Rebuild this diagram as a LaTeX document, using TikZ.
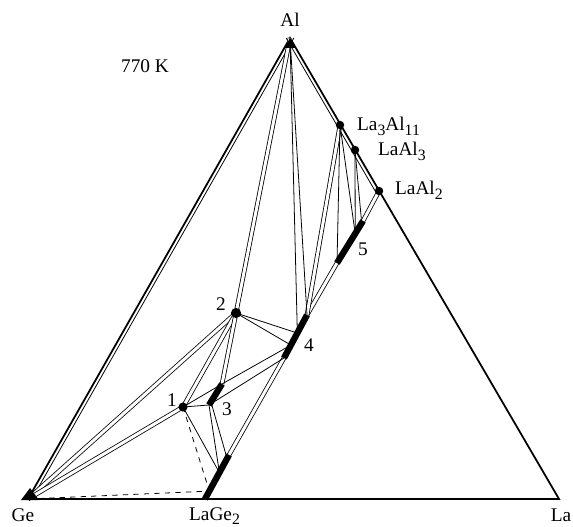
\documentclass[tikz,border=0pt]{standalone}
\usepackage{fontspec}
\setmainfont{Liberation Serif}
\usetikzlibrary{calc}
\newcommand{\phsub}[1]{\raisebox{-0.55ex}{\fontsize{9}{10}\selectfont #1}}

\begin{document}
\begin{tikzpicture}[
        x=0.02cm, y=-0.02cm,
        side/.style={line width=1pt},
        tie/.style={line width=0.45pt},
        band/.style={line width=0.45pt, double=white, double distance=1.7pt},
        phasebar/.style={line width=3.6pt},
        lbl/.style={font=\fontsize{11}{13}\selectfont, inner sep=1pt}
    ]
        \useasboundingbox (0,0) rectangle (573,526);

        % corners and phases
        \coordinate (al) at (290,38);
        \coordinate (ge) at (28,499);
        \coordinate (la) at (559,499);
        \coordinate (g0) at (205,499);
        \coordinate (g1) at (229,455);
        \coordinate (la3al11) at (340,125);
        \coordinate (laal3) at (355,150);
        \coordinate (laal2) at (379,191);
        \coordinate (t5a) at (337,263);
        \coordinate (t5b) at (363,221);
        \coordinate (t4a) at (284,358);
        \coordinate (t4b) at (307,315);
        \coordinate (t3a) at (209,405);
        \coordinate (t3b) at (222,384);
        \coordinate (t2) at (236,313);
        \coordinate (t1) at (183,407);

        % points on the bars
        \coordinate (t4m) at ($(t4a)!0.58!(t4b)$);
        \coordinate (t4l) at ($(t4a)!0.3!(t4b)$);
        \coordinate (t5m) at ($(t5a)!0.7!(t5b)$);
        \coordinate (t5u) at ($(t5a)!0.95!(t5b)$);
        \coordinate (t3u) at ($(t3a)!0.15!(t3b)$);
        \coordinate (gd) at ($(g0)!0.18!(g1)$);
        \coordinate (gm) at ($(g0)!0.6!(g1)$);
        \coordinate (gu) at ($(g0)!0.92!(g1)$);

        % triangle
        \draw[side] (ge) -- (al) -- (la) -- cycle;
        \draw[tie] ([xshift=2.2pt]al) -- ([xshift=2.2pt]ge);
        \draw[tie] ([xshift=-2.2pt]al) -- ([xshift=-2.2pt]laal2);

        % narrow two-phase fields
        \draw[band] (al) -- (t2);
        \draw[band] (ge) -- (t2);
        \draw[band] (ge) -- (t1);
        \draw[band] (t2) -- (t1);
        \draw[band] (t2) -- (t3b);
        \draw[band] (t4a) -- (g1);
        \draw[band] (t4b) -- (t5a);
        \draw[band] (t5b) -- (laal2);
        \draw[band] (la3al11) -- (t4b);

        % tie lines
        \draw[tie] (al) -- (t4m);
        \draw[tie] (al) -- (t4b);
        \draw[tie] (t2) -- (t4m);
        \draw[tie] (t2) -- (t4l);
        \draw[tie] (la3al11) -- (t5a);
        \draw[tie] (la3al11) -- (t5m);
        \draw[tie] (laal3) -- (t5m);
        \draw[tie] (laal3) -- (t5u);
        \draw[tie] (t1) -- (t3b);
        \draw[tie] (t1) -- (t3a);
        \draw[tie] (t3b) -- (t4l);
        \draw[tie] (t3a) -- (t4a);
        \draw[tie] (t1) -- (gm);
        \draw[tie] (t3a) -- (gm);
        \draw[tie] (t3u) -- (gu);
        \draw[tie, dashed] (t1) -- (gd);
        \draw[tie, dashed] (ge) -- (gd);

        % homogeneity ranges
        \draw[phasebar] (g0) -- (g1);
        \draw[phasebar] (t3a) -- (t3b);
        \draw[phasebar] (t4a) -- (t4b);
        \draw[phasebar] (t5a) -- (t5b);

        % phase points
        \fill (al) -- ++(-6,10) -- ++(12,0) -- cycle;
        \fill (21,500) -- (39,500) -- (30,488) -- cycle;
        \fill (la3al11) circle (2.4pt);
        \fill (laal3) circle (2.4pt);
        \fill (laal2) circle (2.4pt);
        \fill (t2) circle (2.9pt);
        \fill (t1) circle (2.6pt);

        % labels
        \node[lbl] (allbl) at (290,20) {Al};
        \node[lbl] (templbl) at (145,66) {770 K};
        \node[lbl, anchor=base west] (la3al11lbl) at (355,131) {La\phsub{3}Al\phsub{11}};
        \node[lbl, anchor=base west] (laal3lbl) at (376,156) {LaAl\phsub{3}};
        \node[lbl, anchor=base west] (laal2lbl) at (393,195) {LaAl\phsub{2}};
        \node[lbl] (lbl5) at (363,249) {5};
        \node[lbl] (lbl4) at (309,345) {4};
        \node[lbl] (lbl2) at (221,304) {2};
        \node[lbl] (lbl3) at (227,409) {3};
        \node[lbl] (lbl1) at (172,400) {1};
        \node[lbl] (gelbl) at (23,515) {Ge};
        \node[lbl, anchor=base west] (lage2lbl) at (187,520) {LaGe\phsub{2}};
        \node[lbl] (lalbl) at (561,515) {La};
\end{tikzpicture}
\end{document}
